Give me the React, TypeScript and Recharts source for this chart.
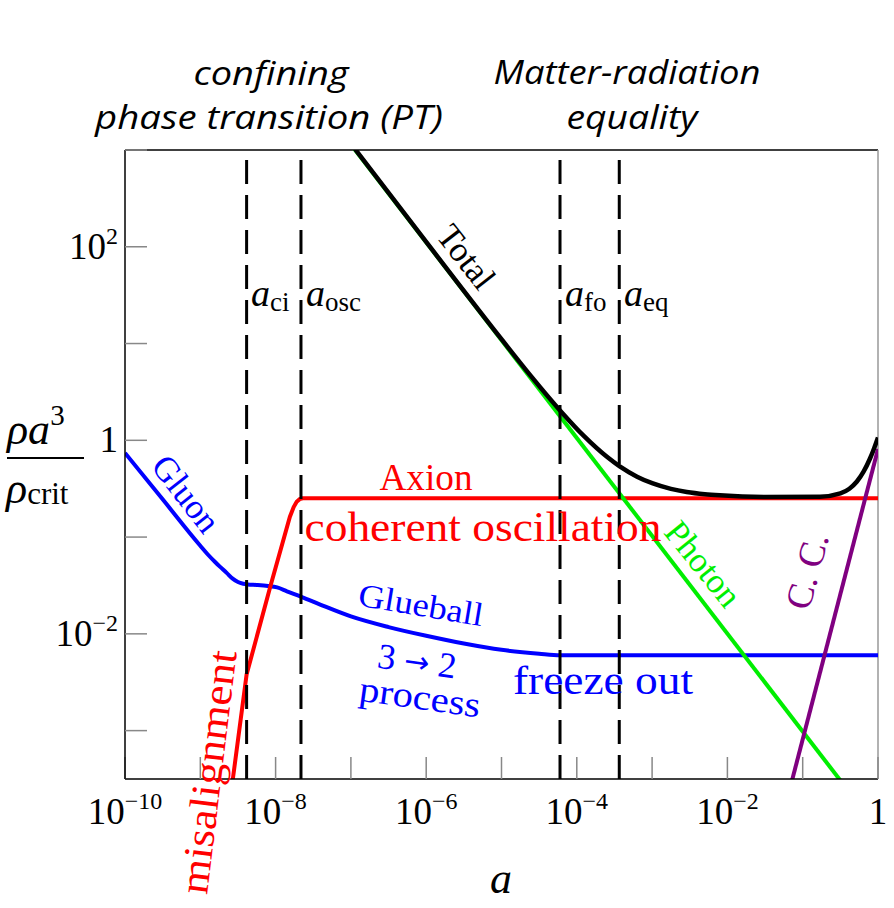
import React from 'react'
import { LineChart, Line, XAxis, YAxis, ReferenceLine } from 'recharts'

// everything is kept as log10 values
const gluonLogA = [-10, -9.5, -9.0, -8.9, -8.8, -8.74, -8.65, -8.57, -8.5, -8.43, -8.37, -8.25, -8.1, -7.98, -7.85, -7.65, -7.4, -7.0, -6.5, -6.0, -5.5, -5.0, -4.5, -4.22, 0]
const gluonLogRho = [-0.13, -0.61, -1.09, -1.18, -1.26, -1.305, -1.37, -1.43, -1.465, -1.483, -1.49, -1.495, -1.505, -1.52, -1.56, -1.62, -1.7, -1.82, -1.93, -2.02, -2.1, -2.165, -2.205, -2.22, -2.22]

const axionLogA = [-8.75, -8.566, -8.385, -8.07, -7.81, -7.76, -7.72, -7.68, -7.64, 0]
const axionLogRho = [-4.58, -3.49, -2.42, -1.51, -0.79, -0.69, -0.635, -0.608, -0.6, -0.6]

const photonLogA = [-7.3, 0]
const photonLogRho = [3.36, -4.02]

const ccLogA = [-1.3, 0]
const ccLogRho = [-3.99, -0.09]

const totalLogA = [-7.3, -6, -5, -4.6, -4.22, -3.9, -3.6, -3.43, -3.2, -2.99, -2.75, -2.54, -2.3, -2.1, -1.5, -0.77, -0.5, -0.38, -0.28, -0.19, -0.106, -0.05, 0]
const totalLogRho = [3.37, 2.05, 1.045, 0.655, 0.306, 0.04, -0.171, -0.27, -0.376, -0.446, -0.502, -0.534, -0.557, -0.569, -0.585, -0.582, -0.548, -0.5, -0.426, -0.322, -0.188, -0.079, 0.03]

// a_ci, a_osc, a_fo, a_eq
const markerLogA = [-8.385, -7.663, -4.223, -3.436]

const xTickExp = [-10, -9, -8, -7, -6, -5, -4, -3, -2, -1, 0]
const xLabelExp = [-10, -8, -6, -4, -2, 0]
const yTickExp = [-3, -2, -1, 0, 1, 2, 3]
const yLabelExp = [-2, 0, 2]

const BLUE = '#0000ff'
const RED = '#ff0000'
const GREEN = '#00ee00'
const PURPLE = '#800080'
const SERIF = '"Liberation Serif", "Times New Roman", serif'
const SANS = '"Open Sans", "DejaVu Sans", sans-serif'

const pts = (xs: number[], ys: number[]) => xs.map((x, i) => ({ a: 10 ** x, r: 10 ** ys[i] }))

function powLabel(e: number) {
  if (e === 0) return <tspan>1</tspan>
  return (
    <>
      <tspan>10</tspan>
      <tspan dy={-15} fontSize={24}>{(e < 0 ? '\u2212' : '') + Math.abs(e)}</tspan>
    </>
  )
}

function XTick({ x, y, payload }: any) {
  const e = Math.round(Math.log10(payload.value))
  if (!xLabelExp.includes(e)) return <g />
  return (
    <text x={x} y={y + 34} textAnchor="middle" fontFamily={SERIF} fontSize={37} fill="#000">
      {powLabel(e)}
    </text>
  )
}

function YTick({ x, y, payload }: any) {
  const e = Math.round(Math.log10(payload.value))
  if (!yLabelExp.includes(e)) return <g />
  return (
    <text x={x} y={y + 12} textAnchor="end" fontFamily={SERIF} fontSize={37} fill="#000">
      {powLabel(e)}
    </text>
  )
}

function Tag({ x, y, rot = 0, color, size, len, children, font = SERIF, italic = false }: any) {
  return (
    <text
      transform={`translate(${x},${y}) rotate(${rot})`}
      textAnchor="middle"
      dominantBaseline="central"
      fontFamily={font}
      fontStyle={italic ? 'italic' : 'normal'}
      fontSize={size}
      fill={color}
      textLength={len}
      lengthAdjust={len ? 'spacingAndGlyphs' : undefined}
    >
      {children}
    </text>
  )
}

function MarkerName({ x, sub }: { x: number; sub: string }) {
  return (
    <text x={x} y={306} fontFamily={SERIF} fontSize={38} fill="#000">
      <tspan fontStyle="italic">a</tspan>
      <tspan dy={5} fontSize={27}>{sub}</tspan>
    </text>
  )
}

function Annotations() {
  return (
    <svg width={894} height={908} style={{ position: 'absolute', left: 0, top: 0, pointerEvents: 'none' }}>
      <Tag x={271} y={72} size={33} len={155} font={SANS} italic color="#000">confining</Tag>
      <Tag x={269} y={116} size={33} len={348} font={SANS} italic color="#000">phase transition (PT)</Tag>
      <Tag x={627} y={71} size={33} len={267} font={SANS} italic color="#000">Matter-radiation</Tag>
      <Tag x={632} y={116} size={33} len={131} font={SANS} italic color="#000">equality</Tag>

      <MarkerName x={251} sub="ci" />
      <MarkerName x={306} sub="osc" />
      <MarkerName x={565} sub="fo" />
      <MarkerName x={624} sub="eq" />

      <text x={7} y={444} fontFamily={SERIF} fontSize={44} fill="#000">
        <tspan fontStyle="italic">ρa</tspan>
        <tspan dy={-19} fontSize={29}>3</tspan>
      </text>
      <line x1={7} x2={84} y1={458} y2={458} stroke="#000" strokeWidth={2.2} />
      <text x={6} y={503} fontFamily={SERIF} fontSize={44} fill="#000">
        <tspan fontStyle="italic">ρ</tspan>
        <tspan dy={1} fontSize={31}>crit</tspan>
      </text>

      <text x={501} y={893} textAnchor="middle" fontFamily={SERIF} fontStyle="italic" fontSize={44} fill="#000">a</text>

      <Tag x={466} y={257} rot={52} size={35} color="#000">Total</Tag>
      <Tag x={186} y={494} rot={52} size={35} color={BLUE}>Gluon</Tag>
      <Tag x={426} y={477} size={37} len={93} color={RED}>Axion</Tag>
      <Tag x={483} y={527} size={42} len={357} color={RED}>coherent oscillation</Tag>
      <Tag x={421} y={605} rot={9.5} size={33} len={126} color={BLUE}>Glueball</Tag>
      <text transform="translate(417,661) rotate(8)" textAnchor="middle" dominantBaseline="central" fontFamily={SERIF} fontSize={36} fill={BLUE}>
        <tspan>3 </tspan>
        <tspan fontFamily='"DejaVu Sans", sans-serif' fontSize={30}>→</tspan>
        <tspan> 2</tspan>
      </text>
      <Tag x={420} y={697} rot={8} size={36} len={122} color={BLUE}>process</Tag>
      <Tag x={603} y={680} size={40} len={180} color={BLUE}>freeze out</Tag>
      <Tag x={703} y={564} rot={51} size={35} color={GREEN}>Photon</Tag>
      <Tag x={807} y={571} rot={-75} size={37} color={PURPLE}>C. C.</Tag>
      <Tag x={208} y={772} rot={-83} size={41} len={245} color={RED}>misalignment</Tag>
    </svg>
  )
}

export default function App() {
  return (
    <div style={{ position: 'absolute', left: 0, top: 0, width: 894, height: 908, background: '#fff' }}>
      <LineChart width={894} height={908} margin={{ top: 150, right: 16, left: 65, bottom: 69 }}>
        <XAxis
          type="number"
          dataKey="a"
          scale="log"
          domain={[1e-10, 1]}
          allowDataOverflow
          ticks={xTickExp.map(e => 10 ** e)}
          interval={0}
          height={60}
          tickSize={-22}
          tickMargin={33}
          tickLine={{ stroke: '#888', strokeWidth: 1.5 }}
          axisLine={{ stroke: '#000', strokeWidth: 1.5 }}
          tick={<XTick />}
        />
        <YAxis
          type="number"
          scale="log"
          domain={[10 ** -3.5, 1000]}
          allowDataOverflow
          ticks={yTickExp.map(e => 10 ** e)}
          interval={0}
          width={60}
          tickSize={-22}
          tickMargin={29}
          tickLine={{ stroke: '#888', strokeWidth: 1.5 }}
          axisLine={{ stroke: '#000', strokeWidth: 1.5 }}
          tick={<YTick />}
        />
        <ReferenceLine y={1000} stroke="#000" strokeWidth={1.5} />
        <ReferenceLine x={1} stroke="#999" strokeWidth={1.5} />
        <Line data={pts(gluonLogA, gluonLogRho)} dataKey="r" type="monotone" stroke={BLUE} strokeWidth={4} dot={false} isAnimationActive={false} />
        <Line data={pts(axionLogA, axionLogRho)} dataKey="r" type="linear" stroke={RED} strokeWidth={4} dot={false} isAnimationActive={false} />
        <Line data={pts(photonLogA, photonLogRho)} dataKey="r" type="linear" stroke={GREEN} strokeWidth={4} dot={false} isAnimationActive={false} />
        <Line data={pts(ccLogA, ccLogRho)} dataKey="r" type="linear" stroke={PURPLE} strokeWidth={4} dot={false} isAnimationActive={false} />
        <Line data={pts(totalLogA, totalLogRho)} dataKey="r" type="monotone" stroke="#000" strokeWidth={4.5} dot={false} isAnimationActive={false} />
        {markerLogA.map(e => (
          <ReferenceLine key={e} x={10 ** e} stroke="#000" strokeWidth={3} strokeDasharray="24 11" />
        ))}
      </LineChart>
      <Annotations />
    </div>
  )
}
